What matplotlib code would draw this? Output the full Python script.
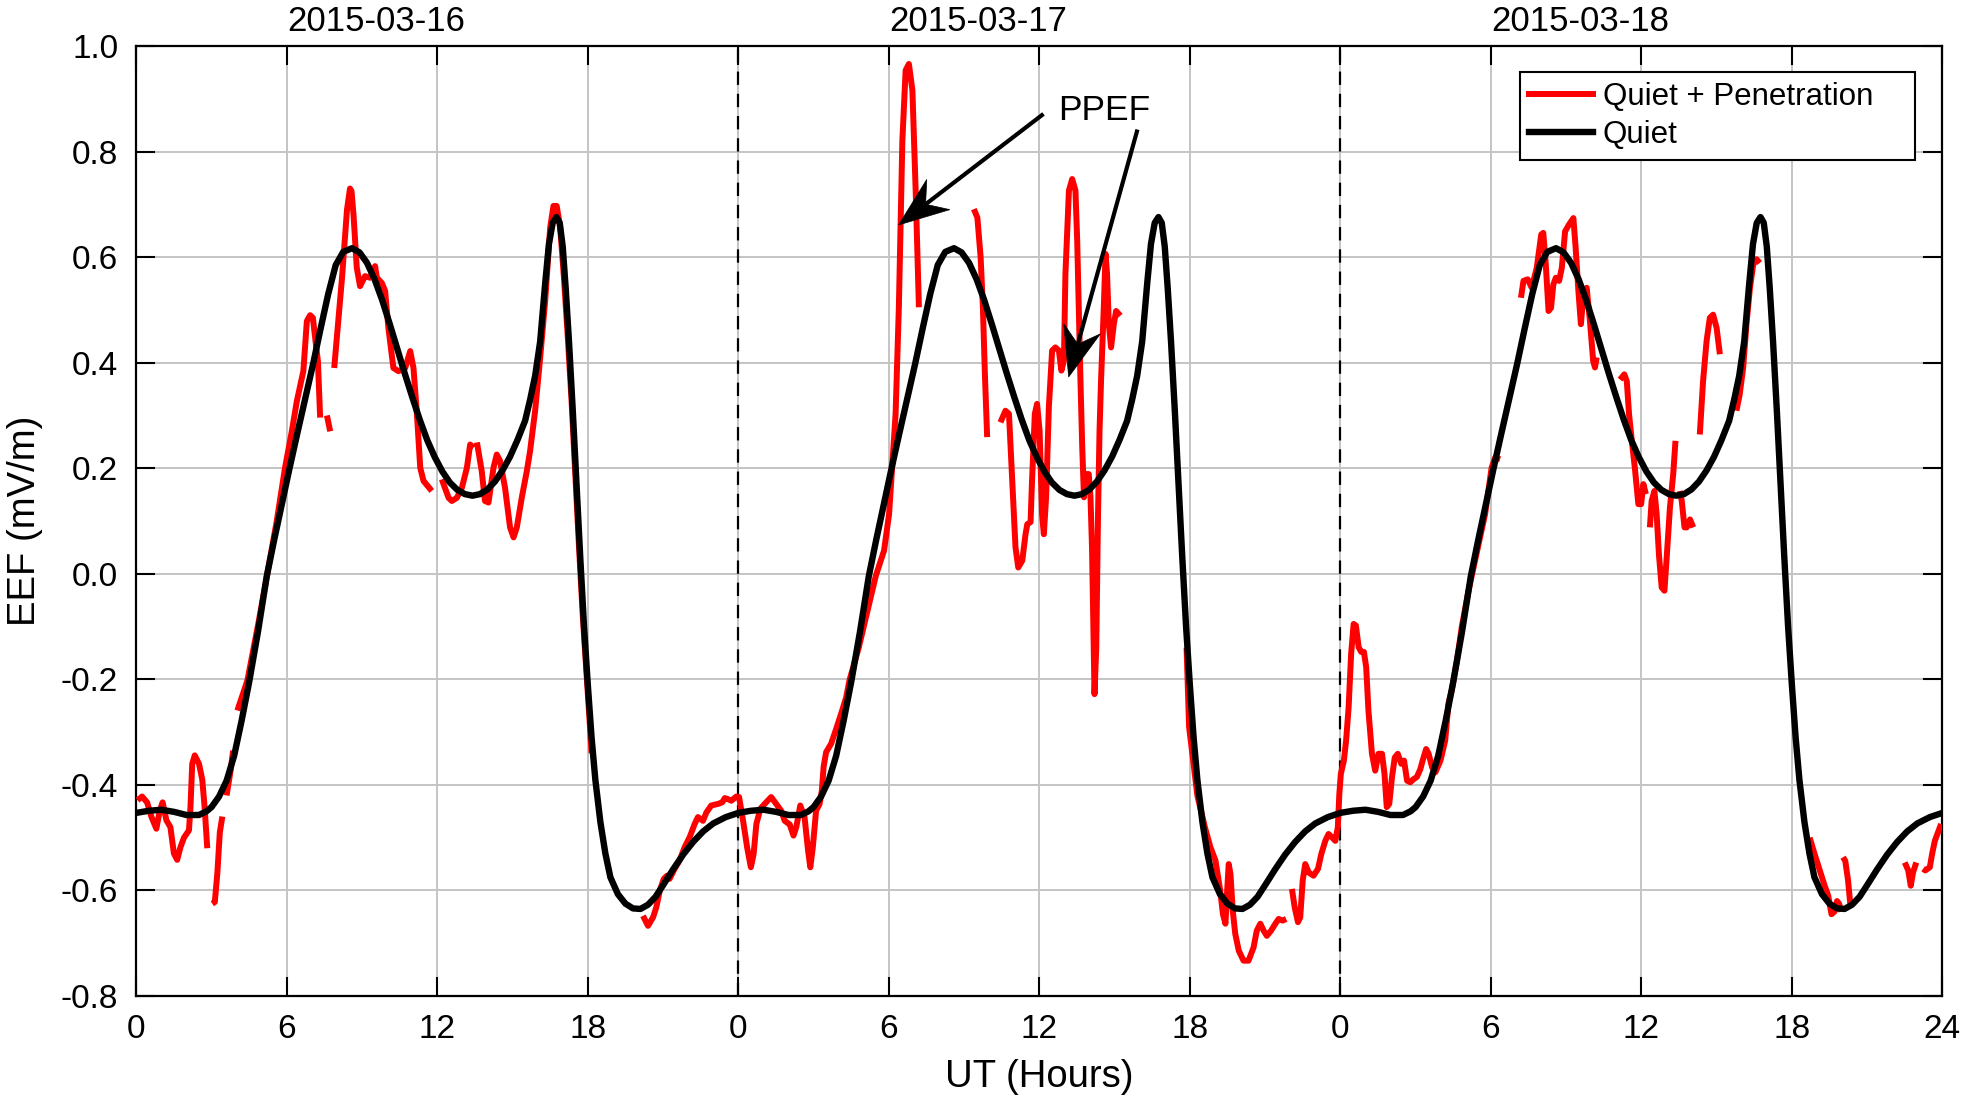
import numpy as np
import matplotlib
matplotlib.use("Agg")
import matplotlib.pyplot as plt
from matplotlib.lines import Line2D
from matplotlib.patches import Polygon
from matplotlib.transforms import IdentityTransform

plt.rcParams['font.family'] = ['Liberation Sans', 'DejaVu Sans']
plt.rcParams['axes.unicode_minus'] = False

nan = np.nan

# ---------------- data ----------------
# Quiet-time EEF, one day (hour of day, mV/m); identical on each of the three days
quiet_hours = [0.0, 0.5, 1.0, 1.5, 2.0, 2.5, 2.8, 3.0, 3.3, 3.6, 3.9, 4.2, 4.5, 4.85, 5.2,
               5.5, 5.8, 6.1, 6.4, 6.7, 7.05, 7.35, 7.65, 7.95, 8.25, 8.6, 8.9, 9.2, 9.5,
               9.8, 10.1, 10.4, 10.7, 11.0, 11.3, 11.6, 11.9, 12.2, 12.5, 12.8, 13.1, 13.4,
               13.7, 14.0, 14.3, 14.6, 14.9, 15.2, 15.5, 15.7, 15.9, 16.1, 16.3, 16.45,
               16.6, 16.75, 16.88, 17.0, 17.12, 17.25, 17.4, 17.55, 17.7, 17.85, 18.0,
               18.15, 18.3, 18.5, 18.7, 18.9, 19.2, 19.5, 19.8, 20.1, 20.4, 20.7, 21.0,
               21.4, 21.8, 22.2, 22.6, 23.0, 23.5, 24.0]
quiet_values = [-0.453, -0.449, -0.447, -0.451, -0.457, -0.457, -0.450, -0.442, -0.422,
                -0.392, -0.345, -0.278, -0.205, -0.110, -0.005, 0.065, 0.132, 0.198, 0.262,
                0.325, 0.398, 0.465, 0.530, 0.585, 0.610, 0.617, 0.609, 0.589, 0.558,
                0.519, 0.474, 0.427, 0.380, 0.335, 0.292, 0.253, 0.221, 0.194, 0.173,
                0.159, 0.151, 0.148, 0.151, 0.160, 0.175, 0.196, 0.222, 0.254, 0.290,
                0.330, 0.375, 0.440, 0.550, 0.625, 0.665, 0.676, 0.665, 0.620, 0.540,
                0.440, 0.310, 0.170, 0.030, -0.100, -0.210, -0.310, -0.390, -0.470,
                -0.530, -0.575, -0.607, -0.625, -0.634, -0.635, -0.627, -0.612, -0.590,
                -0.560, -0.532, -0.508, -0.488, -0.473, -0.461, -0.453]

# Quiet + Penetration (UT hours from 2015-03-16 00:00; NaN = data gap)
red_day1_hours = [0.05, 0.23, 0.43, 0.6, 0.8, 0.93, 1.05, 1.2, 1.36, 1.5, 1.63, 1.76, 1.9,
                  2.1, 2.16, 2.23, 2.33, 2.5, 2.63, 2.72, 2.83, nan,
                  3.03, 3.13, 3.23, 3.33, 3.43, nan,
                  3.6, 3.76, 3.86, nan,
                  4.03, 4.43, 4.89, 5.3, 5.6, 5.93, 6.2, 6.4, 6.66, 6.8, 6.93, 7.04, 7.13,
                  7.24, 7.33, nan,
                  7.6, 7.73, nan,
                  7.89, 8.2, 8.4, 8.52, 8.58, 8.66, 8.79, 8.92, 9.12, 9.32, 9.52, 9.59, 9.79,
                  9.92, 10.05, 10.25, 10.45, 10.72, 10.92, 11.05, 11.18, 11.32, 11.45,
                  11.78, nan,
                  12.18, 12.45, 12.58, 12.78, 12.98, 13.18, 13.31, 13.44, nan,
                  13.58, 13.77, 13.9, 14.04, 14.24, 14.37, 14.5, 14.7, 14.9, 15.04, 15.17,
                  15.37, 15.57, 15.7, 15.9, 16.1, 16.3, 16.5, 16.63, 16.76, 16.9, 17.05,
                  17.2, 17.35, 17.5, 17.65, 17.8, 17.95, 18.1, 18.15, nan]
red_day1_values = [-0.429, -0.422, -0.433, -0.46, -0.483, -0.45, -0.433, -0.467, -0.48,
                   -0.53, -0.542, -0.518, -0.5, -0.486, -0.442, -0.36, -0.344, -0.36, -0.39,
                   -0.44, -0.52, nan,
                   -0.625, -0.622, -0.568, -0.49, -0.46, nan,
                   -0.42, -0.373, -0.335, nan,
                   -0.259, -0.202, -0.088, 0.02, 0.1, 0.201, 0.27, 0.327, 0.384, 0.479,
                   0.49, 0.485, 0.447, 0.403, 0.296, nan,
                   0.3, 0.27, nan,
                   0.39, 0.56, 0.69, 0.73, 0.725, 0.68, 0.58, 0.545, 0.564, 0.561, 0.583,
                   0.561, 0.551, 0.536, 0.466, 0.39, 0.384, 0.39, 0.422, 0.39, 0.308,
                   0.201, 0.176, 0.157, nan,
                   0.179, 0.144, 0.138, 0.144, 0.163, 0.201, 0.245, 0.239, nan,
                   0.249, 0.195, 0.138, 0.135, 0.201, 0.226, 0.214, 0.163, 0.088, 0.069,
                   0.088, 0.145, 0.195, 0.233, 0.309, 0.409, 0.517, 0.656, 0.697, 0.697,
                   0.656, 0.56, 0.45, 0.33, 0.19, 0.05, -0.08, -0.19, -0.3, -0.34, nan]

red_day2_hours = [20.2, 20.4, 20.6, 20.73, 20.87, 21.03, 21.16, 21.26, 21.46, 21.66, 21.86,
                  22.06, 22.26, 22.39, 22.59, 22.73, 22.92, 23.19, 23.36, 23.46, 23.59,
                  23.72, 23.92, 24.03, 24.19, 24.35, 24.5, 24.61, 24.72, 24.88, 25.05,
                  25.31, 25.51, 25.71, 25.85, 26.05, 26.2, 26.31, 26.47, 26.64, 26.78,
                  26.87, 26.97, 27.1, 27.24, 27.33, 27.4, 27.5, 27.7, 27.9, 28.1, 28.3,
                  28.43, 28.8, 29.15, 29.48, 29.81, 30.01, 30.14, 30.27, 30.4, 30.54,
                  30.67, 30.8, 30.94, 31.07, 31.2, nan,
                  33.39, 33.53, 33.66, 33.75, 33.83, 33.92, nan,
                  34.45, 34.65, 34.79, 34.92, 35.05, 35.16, 35.32, 35.45, 35.52, 35.65,
                  35.71, 35.82, 35.91, 36.01, 36.11, 36.18, 36.27, 36.38, 36.51, 36.64,
                  36.78, 36.88, 36.98, 37.04, 37.18, 37.31, 37.44, 37.51, 37.64, 37.71,
                  37.78, 37.84, 37.97, 38.04, 38.1, 38.17, 38.2, 38.27, 38.34, 38.4,
                  38.46, 38.57, 38.64, 38.7, 38.77, 38.86, 38.97, 39.06, 39.23, nan]
red_day2_values = [-0.648, -0.667, -0.651, -0.632, -0.6, -0.578, -0.572, -0.578, -0.559,
                   -0.543, -0.518, -0.499, -0.474, -0.461, -0.468, -0.452, -0.439, -0.436,
                   -0.433, -0.425, -0.427, -0.43, -0.422, -0.423, -0.468, -0.518, -0.556,
                   -0.531, -0.474, -0.445, -0.436, -0.423, -0.436, -0.449, -0.468, -0.475,
                   -0.496, -0.48, -0.439, -0.461, -0.524, -0.556, -0.518, -0.449, -0.436,
                   -0.411, -0.366, -0.338, -0.322, -0.294, -0.265, -0.234, -0.202, -0.14,
                   -0.07, -0.004, 0.044, 0.113, 0.208, 0.303, 0.505, 0.821, 0.954, 0.966,
                   0.916, 0.726, 0.505, nan,
                   0.691, 0.675, 0.6, 0.505, 0.378, 0.259, nan,
                   0.287, 0.309, 0.303, 0.177, 0.05, 0.012, 0.025, 0.075, 0.094, 0.098,
                   0.177, 0.303, 0.322, 0.271, 0.113, 0.075, 0.145, 0.316, 0.423, 0.429,
                   0.423, 0.385, 0.404, 0.568, 0.726, 0.748, 0.726, 0.631, 0.366, 0.24,
                   0.145, 0.189, 0.189, 0.145, 0.05, -0.139, -0.228, -0.139, 0.113, 0.271,
                   0.366, 0.505, 0.606, 0.568, 0.473, 0.429, 0.473, 0.498, 0.489, nan]

red_day3_hours = [41.87, 41.97, 42.3, 42.6, 42.82, 43.02, 43.21, 43.32, 43.42, 43.48, 43.55,
                  43.62, 43.71, 43.81, 43.95, 44.14, 44.34, 44.54, 44.67, 44.81, 44.94,
                  45.07, 45.24, 45.41, 45.54, 45.7, 45.84, nan,
                  46.07, 46.18, 46.31, 46.4, 46.5, 46.6, 46.74, 46.93, 47.11, 47.24, 47.4,
                  47.53, 47.66, 47.8, 47.9, 47.96, 48.02, 48.14, 48.23, 48.33, 48.43,
                  48.53, 48.62, 48.73, 48.83, 48.94, 49.03, 49.12, 49.26, 49.39, 49.52,
                  49.66, 49.76, 49.85, 49.95, 50.06, 50.17, 50.29, 50.43, 50.54, 50.66,
                  50.79, 50.92, 51.05, 51.19, 51.28, 51.42, 51.52, 51.66, 51.79, 51.99,
                  52.18, 52.31, 52.44, 52.65, 52.84, 53.11, 53.37, 53.77, 54.03, 54.17,
                  54.37, nan,
                  55.2, 55.3, 55.47, 55.63, 55.83, 56.01, 56.09, 56.19, 56.3, 56.4, 56.49,
                  56.59, 56.72, 56.83, 56.96, 57.12, 57.29, 57.38, 57.49, 57.59, 57.69,
                  57.82, 57.95, 58.08, 58.15, 58.22, nan,
                  59.15, 59.32, 59.42, 59.51, 59.62, 59.74, 59.88, 59.99, 60.08, 60.18, nan,
                  60.34, 60.41, 60.52, 60.61, 60.7, 60.81, 60.92, 61.01, 61.14, 61.27,
                  61.36, nan,
                  61.54, 61.61, 61.72, 61.81, 61.94, 62.07, nan,
                  62.33, 62.46, 62.6, 62.73, 62.86, 63.0, 63.13, nan,
                  63.79, 63.92, 64.06, 64.19, 64.33, 64.46, 64.59, 64.72, nan,
                  66.71, 66.9, 67.1, 67.3, 67.45, 67.58, 67.7, 67.8, 67.88, 67.98, nan,
                  68.04, 68.13, 68.24, 68.33, nan,
                  70.5, 70.64, 70.74, 70.83, 70.96, nan,
                  71.23, 71.32, 71.5, 71.59, 71.7, 71.8, 71.95]
red_day3_values = [-0.14, -0.29, -0.42, -0.48, -0.518, -0.543, -0.6, -0.645, -0.663, -0.607,
                   -0.55, -0.569, -0.638, -0.682, -0.714, -0.733, -0.733, -0.708, -0.676,
                   -0.663, -0.676, -0.686, -0.676, -0.663, -0.654, -0.657, -0.654, nan,
                   -0.597, -0.632, -0.66, -0.651, -0.581, -0.55, -0.566, -0.572, -0.559,
                   -0.531, -0.506, -0.493, -0.499, -0.506, -0.48, -0.417, -0.379, -0.354,
                   -0.316, -0.253, -0.152, -0.095, -0.098, -0.139, -0.148, -0.148, -0.177,
                   -0.259, -0.341, -0.373, -0.341, -0.341, -0.379, -0.442, -0.436, -0.385,
                   -0.348, -0.341, -0.36, -0.354, -0.392, -0.395, -0.389, -0.385, -0.37,
                   -0.354, -0.332, -0.341, -0.367, -0.376, -0.354, -0.316, -0.246, -0.221,
                   -0.164, -0.101, -0.032, 0.025, 0.113, 0.201, 0.22, 0.217, nan,
                   0.523, 0.555, 0.558, 0.542, 0.58, 0.643, 0.646, 0.586, 0.498, 0.504,
                   0.548, 0.561, 0.555, 0.58, 0.649, 0.662, 0.674, 0.618, 0.536, 0.473,
                   0.529, 0.542, 0.479, 0.403, 0.391, 0.41, nan,
                   0.368, 0.378, 0.365, 0.302, 0.252, 0.201, 0.132, 0.132, 0.17, 0.151, nan,
                   0.088, 0.138, 0.157, 0.113, 0.037, -0.026, -0.032, 0.031, 0.126, 0.189,
                   0.252, nan,
                   0.157, 0.138, 0.088, 0.088, 0.103, 0.088, nan,
                   0.264, 0.365, 0.441, 0.485, 0.491, 0.466, 0.416, nan,
                   0.309, 0.34, 0.391, 0.473, 0.542, 0.586, 0.596, 0.589, nan,
                   -0.5, -0.53, -0.56, -0.59, -0.61, -0.645, -0.64, -0.62, -0.625, -0.64, nan,
                   -0.537, -0.544, -0.581, -0.626, nan,
                   -0.547, -0.562, -0.591, -0.566, -0.547, nan,
                   -0.559, -0.562, -0.556, -0.531, -0.506, -0.493, -0.474]

day_labels = ['2015-03-16', '2015-03-17', '2015-03-18']
x_tick_labels = ['0', '6', '12', '18', '0', '6', '12', '18', '0', '6', '12', '18', '24']
y_tick_values = [-0.8, -0.6, -0.4, -0.2, 0.0, 0.2, 0.4, 0.6, 0.8, 1.0]
y_tick_labels = ['-0.8', '-0.6', '-0.4', '-0.2', '0.0', '0.2', '0.4', '0.6', '0.8', '1.0']
legend_labels = ['Quiet + Penetration', 'Quiet']
annotation_text = 'PPEF'
# PPEF arrows: (tail hour, tail value) -> (tip hour, tip value)
ppef_arrows = [((36.1, 0.869), (30.39, 0.661)),
               ((39.89, 0.838), (37.17, 0.373))]

# ---------------- figure ----------------
fig = plt.figure(figsize=(19.61, 10.99), dpi=100)
ax = fig.add_axes([0.0695, 0.0937, 0.921, 0.8644])

red_h = np.array(red_day1_hours + red_day2_hours + red_day3_hours, dtype=float)
red_v = np.array(red_day1_values + red_day2_values + red_day3_values, dtype=float)

qh = np.array(quiet_hours)
qv = np.array(quiet_values)
quiet_h = np.concatenate([qh + 24 * k for k in range(3)])
quiet_v = np.concatenate([qv for k in range(3)])

RED_LW, BLACK_LW = 4.3, 4.6
ax.plot(red_h, red_v, color='#ff0000', lw=RED_LW, solid_capstyle='butt', zorder=3)
ax.plot(quiet_h, quiet_v, color='black', lw=BLACK_LW, zorder=4)

for xd in (24, 48):
    ax.axvline(xd, color='black', lw=1.6, ls=(0, (6, 4)), zorder=2)

ax.set_xlim(0, 72)
ax.set_ylim(-0.8, 1.0)
ax.set_xticks(np.arange(0, 73, 6))
ax.set_xticklabels(x_tick_labels)
ax.set_yticks(y_tick_values)
ax.set_yticklabels(y_tick_labels)
ax.grid(True, color='#c4c4c4', lw=1.4, zorder=0)
ax.set_axisbelow(True)
ax.tick_params(direction='in', length=14, width=1.5, top=True, right=True,
               labelsize=24, pad=13)
for s in ax.spines.values():
    s.set_linewidth(1.6)

ax.set_xlabel('UT (Hours)', fontsize=27.5, labelpad=10)
ax.set_ylabel('EEF (mV/m)', fontsize=27.5, labelpad=13)

for i, lab in enumerate(day_labels):
    ax.text(6 + 24 * i, 1.046, lab, fontsize=25, ha='left', va='center', clip_on=False)

handles = [Line2D([], [], color='#ff0000', lw=RED_LW), Line2D([], [], color='black', lw=BLACK_LW)]
leg = ax.legend(handles, legend_labels, loc='upper left',
                bbox_to_anchor=(0.766, 0.0, 0.2187, 0.9726), mode='expand',
                fontsize=22.5, frameon=True, fancybox=False, framealpha=1,
                handlelength=2.05, handletextpad=0.3, labelspacing=0.27, borderpad=0.31,
                borderaxespad=0)
leg.get_frame().set_edgecolor('black')
leg.get_frame().set_linewidth(1.5)

ax.text(38.6, 0.878, annotation_text, fontsize=25.5, ha='center', va='center', zorder=6)

# arrows with concave ("barbed") heads, built in display space
HEAD_L, HEAD_W, NOTCH = 50.0, 19.0, 0.68
for (tail, tip) in ppef_arrows:
    p0 = ax.transData.transform(tail)
    p1 = ax.transData.transform(tip)
    u = (p1 - p0) / np.hypot(*(p1 - p0))
    n = np.array([-u[1], u[0]])
    back = p1 - HEAD_L * u
    notch = p1 - NOTCH * HEAD_L * u
    shaft = np.array([p0, notch + 0.1 * u])
    ax.add_line(Line2D(shaft[:, 0], shaft[:, 1], color='black', lw=3.0,
                       transform=IdentityTransform(), zorder=6))
    head = Polygon([p1, back + HEAD_W * n, notch, back - HEAD_W * n], closed=True,
                   facecolor='black', edgecolor='black', lw=0.5,
                   transform=IdentityTransform(), zorder=6)
    ax.add_patch(head)

fig.savefig('out.png', dpi=100)
